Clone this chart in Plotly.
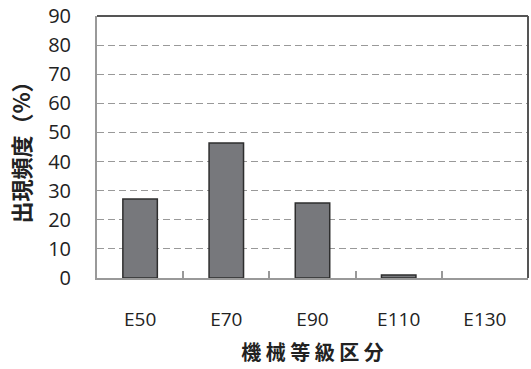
import plotly.graph_objects as go

categories = ["E50", "E70", "E90", "E110", "E130"]
frequency = [27.1, 46.4, 25.8, 1.0, 0.0]
y_ticks = [0, 10, 20, 30, 40, 50, 60, 70, 80, 90]

font_family = "Open Sans, Noto Sans CJK JP, sans-serif"

# no outline on empty categories
outline_widths = [1.5 if v > 0 else 0 for v in frequency]

fig = go.Figure(
    go.Bar(
        x=categories,
        y=frequency,
        width=0.4,
        marker=dict(color="#77787c", line=dict(color="#2e2e2e", width=outline_widths)),
    )
)

fig.update_layout(
    width=531,
    height=369,
    margin=dict(l=97, r=3, t=16, b=91),
    paper_bgcolor="white",
    plot_bgcolor="white",
    showlegend=False,
    font=dict(family=font_family, size=19, color="#222"),
)

fig.update_xaxes(
    type="category",
    showline=True,
    linecolor="#999",
    linewidth=2,
    ticks="inside",
    tickson="boundaries",
    ticklen=7,
    tickcolor="#999",
    tickwidth=1.5,
    ticklabelstandoff=23,
    tickfont=dict(size=19),
    title=dict(
        text="<b>機 械 等 級 区 分</b>",
        font=dict(size=20, family="Noto Sans CJK JP"),
        standoff=15,
    ),
)

fig.update_yaxes(
    range=[0, 90],
    tickvals=y_ticks,
    showline=True,
    linecolor="#999",
    linewidth=2,
    ticks="",
    ticklabelstandoff=20,
    tickfont=dict(size=20),
    showgrid=True,
    gridcolor="#999",
    griddash="7px,4px",
    gridwidth=1.3,
    zeroline=False,
    title=dict(
        text="<b>出現頻度（%）</b>",
        font=dict(size=22, family="Noto Sans CJK JP"),
        standoff=11,
    ),
)

# Darker frame on the top and right edges of the plot area
fig.add_shape(type="line", xref="paper", yref="paper", x0=0, x1=1, y0=1, y1=1,
              line=dict(color="#555", width=2))
fig.add_shape(type="line", xref="paper", yref="paper", x0=1, x1=1, y0=0, y1=1,
              line=dict(color="#555", width=2))

fig.write_html("out.html")
